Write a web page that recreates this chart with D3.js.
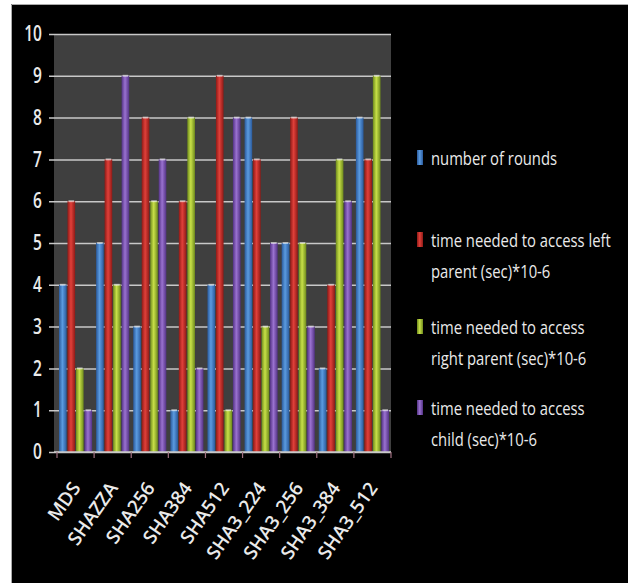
<!DOCTYPE html>
<html>
<head>
<meta charset="utf-8">
<script src="https://cdn.jsdelivr.net/npm/d3@7"></script>
<style>
  html, body { margin: 0; padding: 0; background: #fff; }
  svg { display: block; }
  text { font-family: "Open Sans", "DejaVu Sans", sans-serif; }
</style>
</head>
<body>
<svg id="chart" width="628" height="583"></svg>
<script>
// Hash algorithms on the x axis
const categories = ["MDS", "SHAZZA", "SHA256", "SHA384", "SHA512", "SHA3_224", "SHA3_256", "SHA3_384", "SHA3_512"];

// One array per series, in category order
const rounds      = [4, 5, 3, 1, 4, 8, 5, 2, 8];
const leftParent  = [6, 7, 8, 6, 9, 7, 8, 4, 7];
const rightParent = [2, 4, 6, 8, 1, 3, 5, 7, 9];
const child       = [1, 9, 7, 2, 8, 5, 3, 6, 1];

const seriesNames = [
  ["number of rounds"],
  ["time needed to access left", "parent (sec)*10-6"],
  ["time needed to access", "right parent (sec)*10-6"],
  ["time needed to access", "child (sec)*10-6"]
];
const yTicks = [0, 1, 2, 3, 4, 5, 6, 7, 8, 9, 10];

const series = [rounds, leftParent, rightParent, child];
const colors = [
  { mid: "#5b9be0", edge: "#2a5a9c" },
  { mid: "#e0403a", edge: "#8e1a16" },
  { mid: "#c8e048", edge: "#6e8a1c" },
  { mid: "#9a72d0", edge: "#533285" }
];

const svg = d3.select("#chart");

// black panel, with a white page margin on the left and top
svg.append("rect").attr("x", 11).attr("y", 4).attr("width", 617).attr("height", 579).attr("fill", "#000");
svg.append("path").attr("d", "M11.5,583V4.5H628").attr("fill", "none").attr("stroke", "#aaa");

const plot = { left: 54, right: 391, top: 34, bottom: 452 };

const x = d3.scaleBand().domain(categories).range([plot.left + 3, plot.right]).padding(0);
const y = d3.scaleLinear().domain([0, 10]).range([plot.bottom, plot.top]);
const sub = d3.scaleBand().domain(d3.range(series.length))
  .range([2, x.bandwidth() - 2]).paddingInner(0.1).paddingOuter(0);

// cylinder-like shading for each series
const defs = svg.append("defs");
colors.forEach((c, i) => {
  const g = defs.append("linearGradient").attr("id", "g" + i)
    .attr("x1", "0").attr("x2", "1").attr("y1", "0").attr("y2", "0");
  g.append("stop").attr("offset", "0%").attr("stop-color", c.edge);
  g.append("stop").attr("offset", "45%").attr("stop-color", c.mid);
  g.append("stop").attr("offset", "100%").attr("stop-color", c.edge);
});

// plot background
svg.append("rect")
  .attr("x", plot.left).attr("y", plot.top)
  .attr("width", plot.right - plot.left).attr("height", plot.bottom - plot.top)
  .attr("fill", "#3f3f3f");

// y axis with gridlines
const yAxis = d3.axisLeft(y).tickValues(yTicks)
  .tickSize(-(plot.right - plot.left + 5)).tickPadding(0).tickFormat(d3.format("d"));
const yG = svg.append("g").attr("transform", `translate(${plot.left - 5},0)`).call(yAxis);
yG.select(".domain").remove();
yG.selectAll(".tick line").attr("stroke", "#c8c8c8").attr("stroke-width", 1.5);
yG.selectAll(".tick text")
  .attr("x", 0)
  .attr("transform", "translate(-7,0) scale(0.74,1)")
  .attr("fill", "#eaeaea").attr("font-size", 21).attr("font-weight", 600);

// bars
series.forEach((vals, si) => {
  svg.append("g").selectAll("rect").data(vals).join("rect")
    .attr("x", (d, i) => x(categories[i]) + sub(si))
    .attr("y", d => y(d))
    .attr("width", sub.bandwidth())
    .attr("height", d => y(0) - y(d))
    .attr("fill", `url(#g${si})`);
  // light cap at the top of each bar
  svg.append("g").selectAll("rect").data(vals).join("rect")
    .attr("x", (d, i) => x(categories[i]) + sub(si) + 1)
    .attr("y", d => y(d) - 1)
    .attr("width", sub.bandwidth() - 2)
    .attr("height", 2)
    .attr("fill", "#fff").attr("opacity", 0.55);
});

// x axis
const xAxis = d3.axisBottom(x).tickSize(0).tickFormat("");
const xG = svg.append("g").attr("transform", `translate(0,${plot.bottom})`).call(xAxis);
xG.select(".domain").attr("stroke", "#c8c8c8").attr("stroke-width", 1.5)
  .attr("d", `M${plot.left},0H${plot.right}`);
// category separators below the baseline
svg.append("g").selectAll("line").data(d3.range(categories.length + 1)).join("line")
  .attr("x1", i => x.range()[0] + i * x.step())
  .attr("x2", i => x.range()[0] + i * x.step())
  .attr("y1", plot.bottom).attr("y2", plot.bottom + 6)
  .attr("stroke", "#a07080").attr("stroke-width", 1.2);

// rotated category labels
svg.append("g").selectAll("text").data(categories).join("text")
  .attr("transform", d => `translate(${x(d) + x.bandwidth() / 2 + 6},${plot.bottom + 36}) rotate(-55)`)
  .attr("text-anchor", "end")
  .attr("fill", "#eaeaea").attr("font-size", 19).attr("font-weight", 600)
  .text(d => d);

// legend
const legendY = [158, 240, 327, 408];
const legend = svg.append("g");
seriesNames.forEach((lines, i) => {
  legend.append("rect").attr("x", 417).attr("y", legendY[i] - 8).attr("width", 6).attr("height", 15)
    .attr("fill", `url(#g${i})`);
  lines.forEach((t, j) => {
    legend.append("text")
      .attr("transform", `translate(431,${legendY[i] + j * 31}) scale(0.78,1)`)
      .attr("dy", "0.35em").attr("fill", "#eaeaea").attr("font-size", 19)
      .text(t);
  });
});
</script>
</body>
</html>
